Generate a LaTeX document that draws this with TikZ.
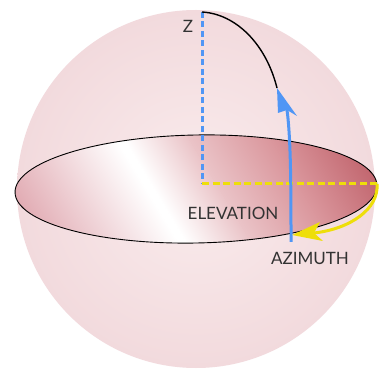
\documentclass[tikz,border=0pt]{standalone}
\usepackage{fontspec}
\setmainfont{Lato}
\definecolor{spherein}{RGB}{250,236,237}
\definecolor{sphereout}{RGB}{242,218,221}
\definecolor{discleft}{RGB}{218,150,160}
\definecolor{disclight}{RGB}{234,195,199}
\definecolor{discmid}{RGB}{218,150,156}
\definecolor{discright}{RGB}{190,95,104}
\definecolor{elblue}{RGB}{80,150,245}
\definecolor{azyellow}{RGB}{238,222,10}
\definecolor{labelgray}{RGB}{50,50,50}
\tikzset{
  lbl/.style={text=labelgray, font=\fontsize{17}{17}\selectfont, inner sep=0pt},
  bluedash/.style={elblue, line width=3pt, dash pattern=on 6pt off 3.5pt},
  yellowdash/.style={azyellow, line width=3pt, dash pattern=on 7pt off 3.5pt},
  meridian/.style={black, line width=1.4pt},
  shaft/.style={#1, line width=3pt},
  bigtip/.style={fill=#1, draw=none},
}
\begin{document}
\begin{tikzpicture}[x=1pt,y=1pt]
\useasboundingbox (0,0) rectangle (387,369);
\fill[white] (0,0) rectangle (387,369);
% sphere
\shade[inner color=spherein, outer color=sphereout] (196,180) circle (179);
% disc
\begin{scope}
  \clip[rotate around={1.1:(196,180)}] (196,180) ellipse (181 and 54);
  \begin{scope}[transform canvas={shift={(150,180)},rotate=31}]
    \fill[discleft] (-300,-250) rectangle (-149.5,250);
    \shade[left color=discleft, right color=white] (-150,-250) rectangle (-3,250);
    \fill[white] (-3.5,-250) rectangle (3.5,250);
    \shade[left color=white, right color=disclight] (3,-250) rectangle (60,250);
    \shade[left color=disclight, right color=discmid] (59.5,-250) rectangle (130,250);
    \shade[left color=discmid, right color=discright] (129.5,-250) rectangle (210,250);
    \fill[discright] (209.5,-250) rectangle (300,250);
  \end{scope}
\end{scope}
\draw[black, line width=0.9pt, rotate around={1.1:(196,180)}] (196,180) ellipse (181 and 54);
% key points
\coordinate (zenith) at (202,357);
\coordinate (origin) at (202,185);
\coordinate (east) at (377,185);
\coordinate (foot) at (291,127);
\coordinate (tip) at (277,281);
\coordinate (notch) at (287,259);
\coordinate (aztip) at (292,134);
\coordinate (aznotch) at (314,136);
% axes
\draw[bluedash] (zenith) -- (origin);
\draw[yellowdash] (origin) -- (east);
% meridian
\draw[meridian] (zenith) .. controls (236,355) and (266,325) .. (tip);
% elevation arrow (shaft + head)
\draw[shaft=elblue] (foot) .. controls (291,175) and (291,230) .. (notch);
\fill[bigtip=elblue] (tip) -- (297,253) -- (notch) -- (278,256) -- cycle;
% azimuth arrow (shaft + head)
\draw[shaft=azyellow] (east) .. controls (379,160) and (350,140) .. (aznotch);
\fill[bigtip=azyellow] (aztip) -- (320,147) -- (aznotch) -- (323,128) -- cycle;
% labels
\node[lbl] (zlabel) at (188,343) {Z};
\node[lbl] (elev) at (233,156) {ELEVATION};
\node[lbl] (azim) at (310,111) {AZIMUTH};
\end{tikzpicture}
\end{document}
